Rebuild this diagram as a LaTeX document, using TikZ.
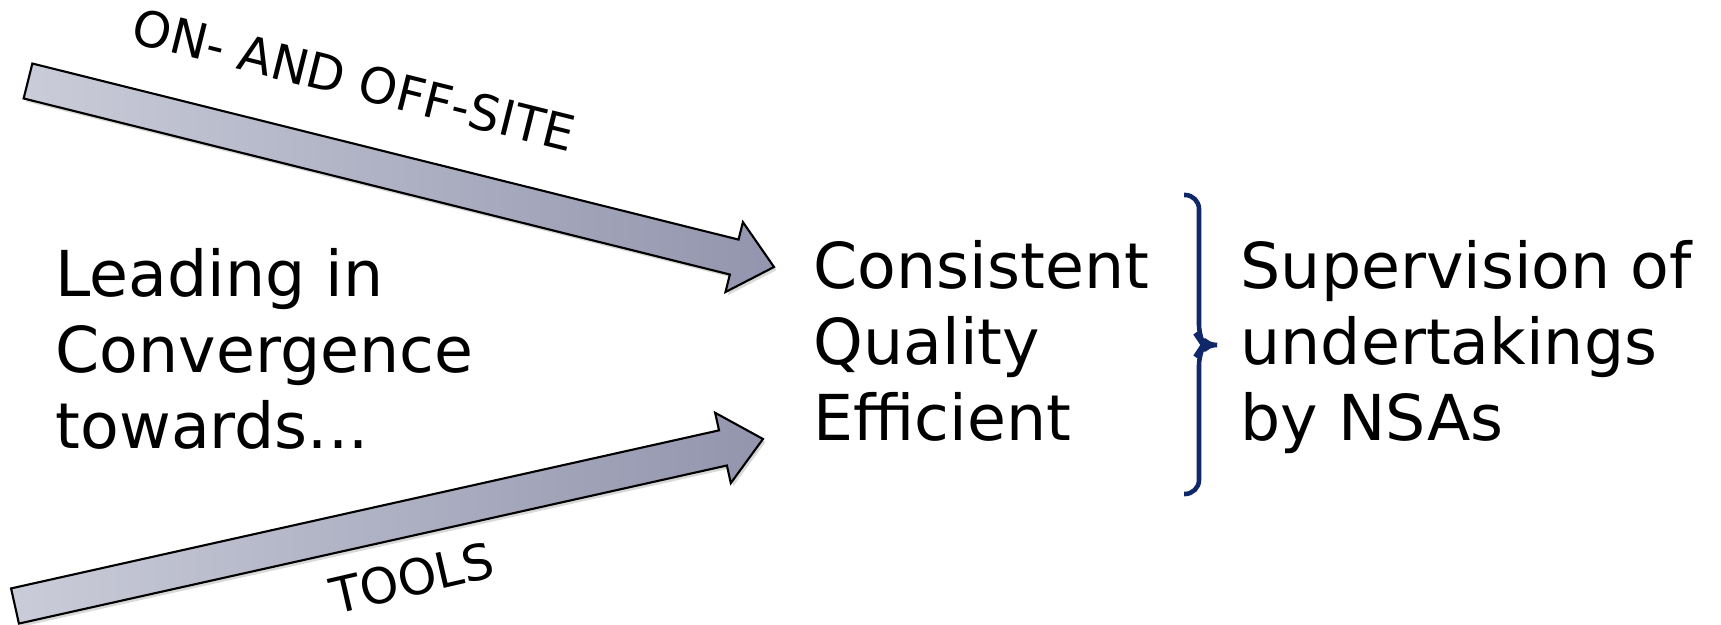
\documentclass[tikz,border=0pt]{standalone}
\usepackage{fontspec}
\setmainfont{DejaVu Sans}
\usepackage{tikz}
\usetikzlibrary{calc,shadows}
\definecolor{arrowlight}{RGB}{202,204,217}
\definecolor{arrowdark}{RGB}{146,149,173}
\definecolor{bracenavy}{RGB}{16,40,105}
\tikzset{
  arrowbody/.style={draw=black, line width=0.6pt, left color=arrowlight,
    right color=arrowdark,
    drop shadow={opacity=0.3, shadow xshift=0.7pt, shadow yshift=-0.9pt}},
  bigtext/.style={font=\fontsize{18}{21.6}\selectfont, align=left,
    inner sep=0pt, anchor=north west},
  arrowlabel/.style={font=\fontsize{14}{16}\selectfont, inner sep=0pt},
  bracket/.style={draw=bracenavy, line width=1.3pt, rounded corners=4pt}
}
\newcommand{\blockarrow}[2]{%
  \coordinate (#1h) at ($(#2)!0.41cm!(#1)$);
  \path[arrowbody]
    ($(#1)!0.18cm!90:(#2)$) -- ($(#1h)!0.18cm!90:(#2)$)
    -- ($(#1h)!0.36cm!90:(#2)$) -- (#2)
    -- ($(#1h)!0.36cm!-90:(#2)$) -- ($(#1h)!0.18cm!-90:(#2)$)
    -- ($(#1)!0.18cm!-90:(#2)$) -- cycle;
}

\begin{document}
\begin{tikzpicture}[x=0.01cm, y=0.01cm]
        \useasboundingbox (0,0) rectangle (1721,625);

        \coordinate (onsite)  at (28,544);
        \coordinate (onsitetip) at (774,358);
        \coordinate (tools)   at (15,19);
        \coordinate (toolstip) at (763,186);
        \blockarrow{onsite}{onsitetip}
        \blockarrow{tools}{toolstip}

        \node[arrowlabel, rotate=-14] (onofflabel) at (354,545) {ON- AND OFF-SITE};
        \node[arrowlabel, rotate=13]  (toolslabel) at (412,47)  {TOOLS};

        \node[bigtext] (leading) at (55,377)
                {Leading in\\ Convergence\\ towards...};
        \node[bigtext] (goals) at (813,385)
                {Consistent\\ Quality\\ Efficient};
        \node[bigtext] (supervision) at (1240,385)
                {Supervision of\\ undertakings\\ by NSAs};

        \coordinate (bracetop) at (1184,430);
        \coordinate (bracebot) at (1184,131);
        \draw[bracket] (bracetop) -- (1199,430) -- (1199,286)
                -- (1203,280) -- (1215,280) -- (1203,280) -- (1199,274)
                -- (1199,131) -- (bracebot);
\end{tikzpicture}
\end{document}
